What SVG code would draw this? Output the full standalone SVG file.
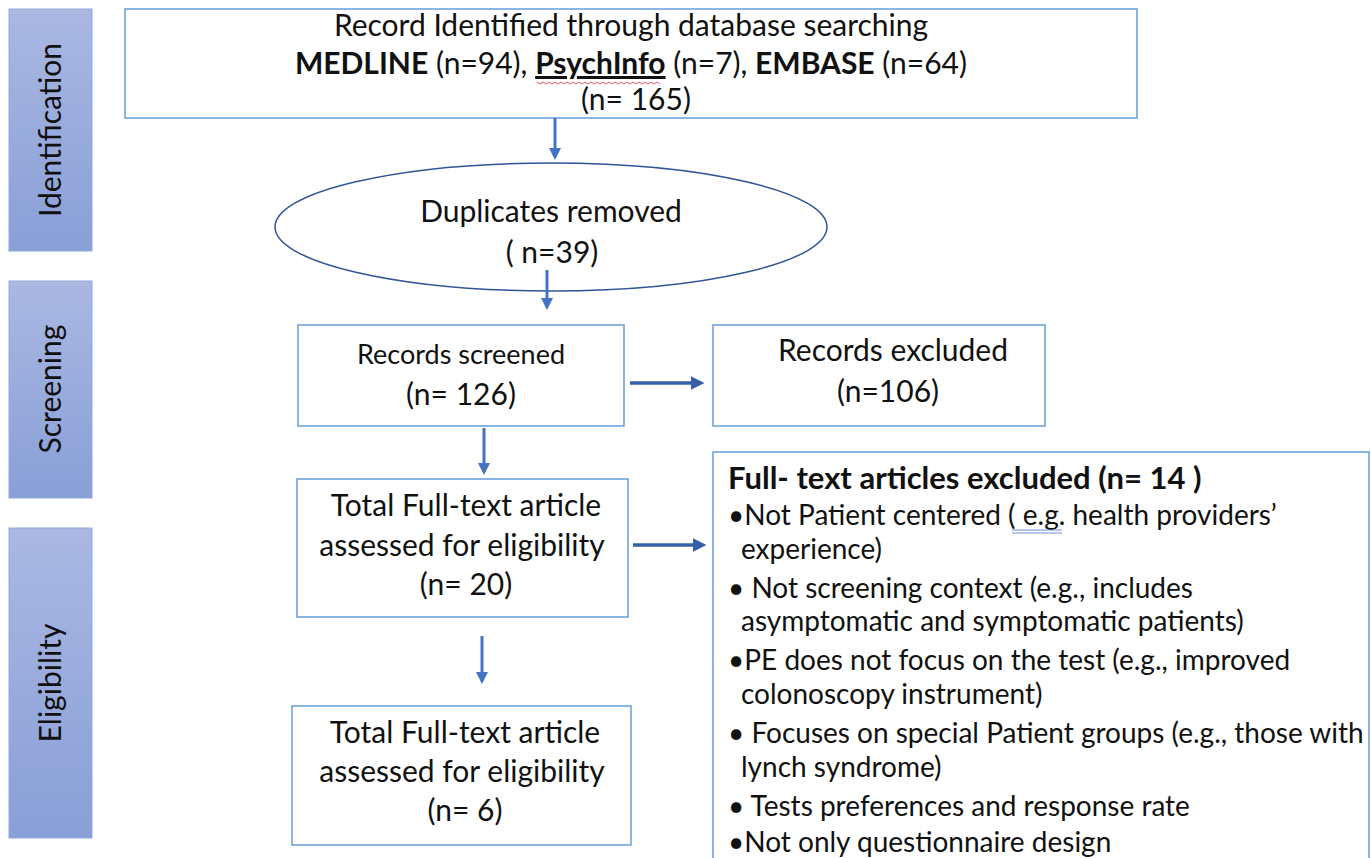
<svg xmlns="http://www.w3.org/2000/svg" width="1371" height="858" viewBox="0 0 1371 858">
<defs>
<linearGradient id="bar" x1="0" y1="0" x2="0" y2="1">
<stop offset="0" stop-color="#AAB8E2"/>
<stop offset="1" stop-color="#889FD7"/>
</linearGradient>
<marker id="ah" markerWidth="4" markerHeight="4" refX="3" refY="2" orient="auto" markerUnits="strokeWidth">
<path d="M0,0 L4,2 L0,4 Z" fill="#4472C4"/>
</marker>
<marker id="ah2" markerWidth="4" markerHeight="4" refX="3" refY="2" orient="auto" markerUnits="strokeWidth">
<path d="M0,0 L4,2 L0,4 Z" fill="#3560A8"/>
</marker>
<style>
text{font-family:Lato,"Open Sans","Liberation Sans",sans-serif;fill:#111;}
.t{font-size:30px;text-anchor:middle;}
.s{font-size:27px;text-anchor:middle;}
.r{font-size:28px;}
.h{font-size:31px;font-weight:bold;}
.b{font-weight:bold;}
.box{fill:#fff;stroke:#6FA3DB;stroke-width:1.6;}
.bar{fill:url(#bar);stroke:#8FA9DC;stroke-width:1;}
.lab{font-size:30px;text-anchor:middle;}
.con{stroke:#4472C4;stroke-width:3;fill:none;marker-end:url(#ah);}
.conh{stroke:#3560A8;stroke-width:3.5;fill:none;marker-end:url(#ah2);}
.sq{fill:none;stroke:#E05A5A;stroke-width:1;}
.gr{fill:none;stroke:#6A8FD8;stroke-width:1;}
</style>
</defs>
<g id="phase-identification">
<rect class="bar" x="9" y="9" width="83" height="242"/>
<text class="lab" transform="translate(61,130) rotate(-90)">Identification</text>
</g>
<g id="phase-screening">
<rect class="bar" x="9" y="281" width="83" height="217"/>
<text class="lab" transform="translate(61,389) rotate(-90)">Screening</text>
</g>
<g id="phase-eligibility">
<rect class="bar" x="9" y="528" width="83" height="310"/>
<text class="lab" transform="translate(61,683) rotate(-90)">Eligibility</text>
</g>
<g id="node-identified">
<rect class="box" x="125" y="9" width="1012" height="109"/>
<text class="t" x="631" y="36">Record Identified through database searching</text>
<text class="t" x="631" y="74"><tspan class="b">MEDLINE</tspan> (n=94), <tspan class="b" text-decoration="underline">PsychInfo</tspan> (n=7), <tspan class="b">EMBASE</tspan> (n=64)</text>
<path class="sq" d="M537,82 l3,2 l3,-2 l3,2 l3,-2 l3,2 l3,-2 l3,2 l3,-2 l3,2 l3,-2 l3,2 l3,-2 l3,2 l3,-2 l3,2 l3,-2 l3,2 l3,-2 l3,2 l3,-2 l3,2 l3,-2 l3,2 l3,-2 l3,2 l3,-2 l3,2 l3,-2 l3,2 l3,-2 l3,2 l3,-2 l3,2 l3,-2 l3,2 l3,-2 l3,2 l3,-2 l3,2 l3,-2 l3,2"/>
<text class="t" x="636" y="110">(n= 165)</text>
</g>
<g id="node-duplicates">
<ellipse cx="551" cy="227" rx="276" ry="64" fill="#fff" stroke="#2F5597" stroke-width="1.5"/>
<text class="t" x="551" y="222">Duplicates removed</text>
<text class="t" x="552" y="263">( n=39)</text>
</g>
<g id="node-screened">
<rect class="box" x="298" y="325" width="326" height="101"/>
<text class="s" x="461" y="364">Records screened</text>
<text class="t" x="461" y="405">(n= 126)</text>
</g>
<g id="node-excluded">
<rect class="box" x="713" y="325" width="332" height="101"/>
<text class="t" x="893" y="361">Records excluded</text>
<text class="t" x="888" y="402">(n=106)</text>
</g>
<g id="node-fulltext">
<rect class="box" x="297" y="479" width="331" height="138"/>
<text class="t" x="466" y="516">Total Full-text article</text>
<text class="t" x="462" y="556">assessed for eligibility</text>
<text class="t" x="466" y="595">(n= 20)</text>
</g>
<g id="node-included">
<rect class="box" x="292" y="706" width="339" height="139"/>
<text class="t" x="465" y="743">Total Full-text article</text>
<text class="t" x="462" y="782">assessed for eligibility</text>
<text class="t" x="465" y="821">(n= 6)</text>
</g>
<g id="node-fulltext-excluded">
<rect class="box" x="713" y="452" width="656" height="430"/>
<text class="h" x="728" y="489">Full- text articles excluded (n= 14 )</text>
<text class="r" x="728" y="525">•Not Patient centered ( e.g. health providers’</text>
<path class="gr" d="M1012,530 H1062 M1012,533 H1062"/>
<text class="r" x="741" y="559">experience)</text>
<text class="r" x="728" y="598">• Not screening context (e.g., includes</text>
<text class="r" x="741" y="631">asymptomatic and symptomatic patients)</text>
<text class="r" x="728" y="670">•PE does not focus on the test (e.g., improved</text>
<text class="r" x="741" y="704">colonoscopy instrument)</text>
<text class="r" x="728" y="743">• Focuses on special Patient groups (e.g., those with</text>
<text class="r" x="741" y="777">lynch syndrome)</text>
<text class="r" x="728" y="816">• Tests preferences and response rate</text>
<text class="r" x="728" y="852">•Not only questionnaire design</text>
</g>
<g id="connectors">
<line class="con" x1="555" y1="118" x2="555" y2="157"/>
<line class="con" x1="547" y1="270" x2="547" y2="307"/>
<line class="conh" x1="630" y1="383" x2="701" y2="383"/>
<line class="con" x1="484" y1="428" x2="484" y2="472"/>
<line class="conh" x1="633" y1="545" x2="703" y2="545"/>
<line class="con" x1="482" y1="636" x2="482" y2="681"/>
</g>
</svg>
